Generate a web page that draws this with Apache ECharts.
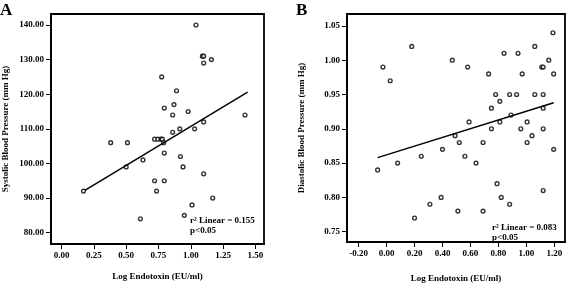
<!DOCTYPE html>
<html><head><meta charset="utf-8">
<script src="https://cdn.jsdelivr.net/npm/echarts@6/dist/echarts.min.js"></script>
<style>html,body{margin:0;padding:0;background:#fff}#c{width:567px;height:288px}</style>
</head><body><div id="c"></div>
<script>
// Panel A: systolic blood pressure vs log endotoxin
const sysPoints = [
  [1.04,140],[1.09,131],[1.10,131],[1.10,129],[1.16,130],[0.775,125],[0.89,121],
  [0.795,116],[0.87,117],[0.86,114],[0.98,115],[1.42,114],[1.10,112],[1.03,110],
  [0.915,110],[0.86,109],[0.38,106],[0.51,106],[0.72,107],[0.745,107],[0.77,107],
  [0.78,107],[0.79,106],[0.795,103],[0.92,102],[0.94,99],[0.50,99],[0.63,101],
  [1.10,97],[0.72,95],[0.795,95],[0.735,92],[0.17,92],[1.17,90],[1.01,88],
  [0.95,85],[0.61,84]
];
const sysFit = [[0.18,92.2],[1.44,120.6]];
const sysXTicks = [0,0.25,0.5,0.75,1.0,1.25,1.5];
const sysYTicks = [80,90,100,110,120,130,140];
// Panel B: diastolic blood pressure vs log endotoxin
const diaPoints = [
  [-0.026,0.99],[0.026,0.97],[0.18,1.02],[0.47,1.00],[0.58,0.99],[0.73,0.98],
  [0.84,1.01],[0.94,1.01],[0.97,0.98],[1.06,1.02],[1.11,0.99],[1.12,0.99],
  [1.16,1.00],[1.19,1.04],[1.195,0.98],[0.78,0.95],[0.88,0.95],[0.93,0.95],
  [1.06,0.95],[1.12,0.95],[0.81,0.94],[0.75,0.93],[1.12,0.93],[0.89,0.92],
  [0.59,0.91],[0.81,0.91],[1.005,0.91],[0.75,0.90],[0.96,0.90],[1.12,0.90],
  [0.49,0.89],[1.04,0.89],[0.52,0.88],[0.69,0.88],[1.005,0.88],[1.195,0.87],
  [0.40,0.87],[-0.064,0.84],[0.079,0.85],[0.248,0.86],[0.56,0.86],[0.64,0.85],
  [0.79,0.82],[1.12,0.81],[0.39,0.80],[0.82,0.80],[0.31,0.79],[0.88,0.79],
  [0.20,0.77],[0.51,0.78],[0.69,0.78]
];
const diaFit = [[-0.064,0.858],[1.195,0.938]];
const diaXTicks = [-0.2,0,0.2,0.4,0.6,0.8,1.0,1.2];
const diaYTicks = [0.75,0.80,0.85,0.90,0.95,1.00,1.05];

const FONT = 'Liberation Serif';
const lbl = {fontFamily: FONT, fontWeight: 'bold', fontSize: 9, color: '#000'};
function axisCommon(ticks, extra) {
  return Object.assign({
    axisLine: {show: true, onZero: false, lineStyle: {color: '#000', width: 1.8}},
    axisTick: {show: true, length: 5, customValues: ticks, lineStyle: {color: '#000', width: 1}},
    axisLabel: Object.assign({customValues: ticks, margin: 7, formatter: v => Number(v).toFixed(2)}, lbl),
    splitLine: {show: false},
    nameTextStyle: {fontFamily: FONT, fontWeight: 'bold', fontSize: 9, color: '#000'},
    nameLocation: 'middle'
  }, extra);
}
const chart = echarts.init(document.getElementById('c'));
chart.setOption({
  animation: false,
  backgroundColor: '#fff',
  grid: [
    {left: 49, top: 14, width: 215, height: 230, show: true, borderColor: '#000', borderWidth: 1.8},
    {left: 347, top: 14, width: 218, height: 237, show: true, borderColor: '#000', borderWidth: 1.8}
  ],
  xAxis: [
    axisCommon(sysXTicks, {gridIndex: 0, type: 'value', min: -0.082, max: 1.567, name: 'Log Endotoxin (EU/ml)', nameGap: 28}),
    axisCommon(diaXTicks, {gridIndex: 1, type: 'value', min: -0.283, max: 1.276, name: 'Log Endotoxin (EU/ml)', nameGap: 32})
  ],
  yAxis: [
    axisCommon(sysYTicks, {gridIndex: 0, type: 'value', min: 76.72, max: 143.18, name: 'Systolic Blood Pressure (mm Hg)', nameGap: 41}),
    axisCommon(diaYTicks, {gridIndex: 1, type: 'value', min: 0.735, max: 1.0673, name: 'Diastolic Blood Pressure (mm Hg)', nameGap: 41})
  ],
  graphic: [
    {type: 'text', left: 0, top: 2, style: {text: 'A', font: 'bold 17px "Liberation Serif"', fill: '#000'}},
    {type: 'text', left: 296, top: 2, style: {text: 'B', font: 'bold 17px "Liberation Serif"', fill: '#000'}},
    {type: 'text', left: 190, top: 216, style: {text: 'r\u00b2 Linear = 0.155\np<0.05', font: 'bold 9px "Liberation Serif"', fill: '#000', lineHeight: 10}},
    {type: 'text', left: 492, top: 223, style: {text: 'r\u00b2 Linear = 0.083\np<0.05', font: 'bold 9px "Liberation Serif"', fill: '#000', lineHeight: 10}}
  ],
  series: [
    {type: 'scatter', xAxisIndex: 0, yAxisIndex: 0, data: sysPoints, symbol: 'circle', symbolSize: 3.8,
     itemStyle: {color: '#fff', borderColor: '#000', borderWidth: 1.4}},
    {type: 'line', xAxisIndex: 0, yAxisIndex: 0, data: sysFit, symbol: 'none', lineStyle: {color: '#000', width: 1.5}},
    {type: 'scatter', xAxisIndex: 1, yAxisIndex: 1, data: diaPoints, symbol: 'circle', symbolSize: 3.8,
     itemStyle: {color: '#fff', borderColor: '#000', borderWidth: 1.4}},
    {type: 'line', xAxisIndex: 1, yAxisIndex: 1, data: diaFit, symbol: 'none', lineStyle: {color: '#000', width: 1.5}}
  ]
});
</script></body></html>
